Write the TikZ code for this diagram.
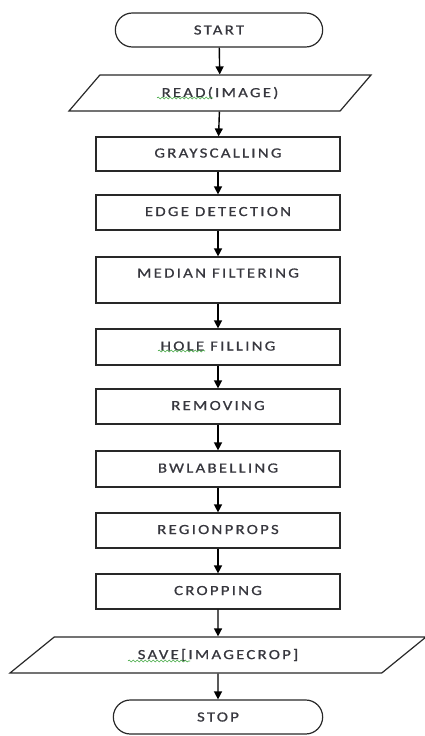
\documentclass[tikz,border=0pt]{standalone}
\usepackage{fontspec}
\setmainfont[LetterSpace=16, FakeStretch=1.2, FakeBold=0.8]{Carlito}
\usetikzlibrary{shapes.geometric, shapes.misc, arrows.meta, decorations.pathmorphing}
\definecolor{boxline}{RGB}{40,40,40}
\definecolor{boxtext}{RGB}{55,55,62}
\definecolor{spell}{RGB}{70,170,70}

\begin{document}
\begin{tikzpicture}[x=1pt, y=-1pt,
    font=\fontsize{14}{16}\selectfont, text=boxtext,
    terminal/.style={rounded rectangle, draw=boxline, line width=1.2pt,
                     minimum width=214pt, minimum height=34pt},
    process/.style={rectangle, draw=boxline, line width=1.2pt,
                    minimum width=244pt, minimum height=35pt, text depth=2pt},
    inout/.style={trapezium, trapezium stretches body, draw=boxline, line width=1.2pt,
                  minimum height=36pt},
    flow/.style={-{Triangle[length=8pt,width=8pt]}, line width=1.4pt, black},
    squiggle/.style={spell, line width=0.6pt, decorate,
                     decoration={snake, amplitude=1pt, segment length=4pt}}]

    \useasboundingbox (0,0) rectangle (425,736);

    % Terminals and input / output
    \node[terminal] (start) at (219, 30) {START};
    \node[inout, trapezium left angle=31.4, trapezium right angle=148.6,
          minimum width=302pt] (read) at (220, 93) {READ(IMAGE)};

    % Processing steps
    \node[process, minimum height=34pt] (gray) at (218, 154) {GRAYSCALLING};
    \node[process] (edge) at (218, 212.5) {EDGE DETECTION};
    \node[process, minimum height=46pt, text depth=14pt] (median) at (218, 280) {MEDIAN FILTERING};
    \node[process, minimum height=36pt] (hole) at (218, 347) {HOLE FILLING};
    \node[process] (remove) at (218, 406.5) {REMOVING};
    \node[process, minimum height=36pt] (label) at (218, 469) {BWLABELLING};
    \node[process] (region) at (218, 530.5) {REGIONPROPS};
    \node[process] (crop) at (218, 591.5) {CROPPING};

    \node[inout, trapezium left angle=22.9, trapezium right angle=157.1,
          minimum width=416pt] (save) at (218, 655) {SAVE[IMAGECROP]};
    \node[terminal, minimum width=216pt] (stop) at (218, 717) {STOP};

    % Connections
    \draw[flow] (start) -- (read);
    \draw[flow] (read) -- (gray);
    \draw[flow] (gray) -- (edge);
    \draw[flow] (edge) -- (median);
    \draw[flow] (median) -- (hole);
    \draw[flow] (hole) -- (remove);
    \draw[flow] (remove) -- (label);
    \draw[flow] (label) -- (region);
    \draw[flow] (region) -- (crop);
    \draw[flow] (crop) -- (save);
    \draw[flow] (save) -- (stop);

    % Spelling marks
    \draw[squiggle] (157, 98) -- (213, 98);
    \draw[squiggle] (158, 351) -- (205, 351);
    \draw[squiggle] (128, 661) -- (190, 661);
\end{tikzpicture}
\end{document}
